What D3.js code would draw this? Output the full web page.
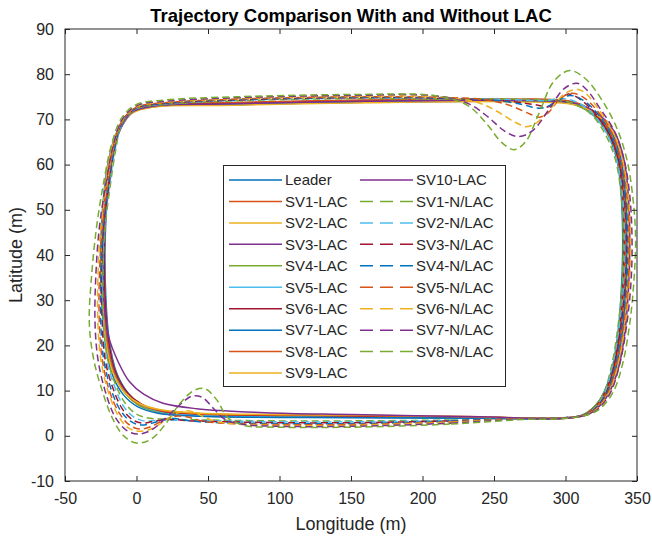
<!DOCTYPE html>
<html>
<head>
<meta charset="utf-8">
<script src="https://cdn.jsdelivr.net/npm/d3@7"></script>
<style>
  html, body { margin: 0; padding: 0; background: #fff; }
  svg { display: block; font-family: "Liberation Sans", Arial, Helvetica, sans-serif; }
</style>
</head>
<body>
<svg id="chart" width="652" height="542"></svg>
<script>
// ---------------- data ----------------
const xTicks = [-50, 0, 50, 100, 150, 200, 250, 300, 350];
const yTicks = [-10, 0, 10, 20, 30, 40, 50, 60, 70, 80, 90];

const leader = [[150,4.3],[240,4.0],[296,3.9],[312,4.6],[323,7.5],[331,13],[336,21],[339,32],[340,43],[339,53],[336,61],[329,67],[318,71.3],[303,73.6],[260,74.2],[160,74.0],[60,73.4],[15,73.1],[-2,71.8],[-11,68],[-17,61],[-20.5,52],[-22,42],[-21.5,31],[-19,21],[-14,14],[-6,9.5],[4,6.8],[18,5.3],[45,4.6]];
const sv1Lac = [[150,4.1],[240,3.9],[297,3.9],[313,4.6],[324,7.6],[332,13],[337,21],[340,32],[341,43],[340,53],[337,61],[330,67.2],[319,71.4],[304,73.5],[260,74.0],[160,73.8],[60,73.2],[15,72.9],[-2.5,71.6],[-11.5,67.8],[-17.5,61],[-21,52],[-22.5,42],[-22,31],[-19.5,21],[-14.5,14],[-6.5,9.3],[3.5,6.6],[17,5.1],[45,4.4]];
const sv2Lac = [[150,4.4],[240,4.1],[298,3.9],[314,4.7],[325,7.7],[333,13.2],[338,21],[341,32],[342,43],[341,53],[338,61],[331,67.2],[320,71.4],[305,73.7],[260,74.3],[160,74.1],[60,73.5],[14,73.2],[-3,71.8],[-12,67.8],[-18,60.5],[-21.5,51.5],[-23,42],[-22.5,31],[-20,21],[-15,14],[-7,9.6],[3,7.0],[17,5.5],[45,4.7]];
const sv3Lac = [[150,4.2],[240,4.0],[297,3.9],[313,4.6],[324,7.4],[332,12.8],[337.5,21],[340.5,32],[341.5,43],[340.5,53],[337.5,61],[330.5,67],[319,71.3],[304,73.6],[260,74.1],[160,73.9],[60,73.3],[14,73.0],[-3,71.6],[-12,67.7],[-18.5,60.5],[-22,51.5],[-23.5,42],[-23,31],[-20.5,21],[-15.5,14],[-7.5,9.4],[2.5,6.7],[17,5.3],[45,4.5]];
const sv4Lac = [[150,4.2],[240,3.9],[296,3.9],[312,4.6],[323,7.5],[331.5,13],[336.5,21],[339.5,32],[340.5,43],[339.5,53],[336.5,61],[329.5,67],[318.5,71.3],[303,73.5],[260,74.1],[160,73.9],[60,73.3],[14,73.0],[-3,71.6],[-12.5,67.6],[-19,60.5],[-22.5,51.5],[-24,42],[-23.5,31],[-21,21],[-16,14],[-8,9.4],[2,6.7],[16,5.2],[45,4.5]];
const sv5Lac = [[150,4.1],[240,3.9],[298,3.9],[314,4.7],[325.5,7.8],[333.5,13.3],[338.5,21],[341.5,32],[342.5,43],[341.5,53],[338.5,61],[331.5,67.3],[320,71.5],[305,73.6],[260,74.1],[160,73.9],[60,73.3],[15,73.0],[-2.5,71.7],[-11.5,67.9],[-17.5,60.8],[-21,51.8],[-22.5,42],[-22,31],[-19.5,21],[-14.5,14],[-6.5,9.4],[3.5,6.8],[17,5.3],[45,4.5]];
const sv6Lac = [[150,4.4],[240,4.1],[297,3.9],[313,4.6],[324,7.6],[332,13.1],[337,21],[340,32],[341,43],[340,53],[337,61],[330,67.1],[319,71.5],[304,73.8],[260,74.4],[160,74.2],[60,73.6],[15,73.3],[-2,72],[-11.5,68.2],[-17.5,61.2],[-21,52],[-22.5,42],[-22,31],[-19.5,21],[-14.5,14],[-6.5,9.6],[3.5,7.0],[17,5.5],[45,4.8]];
const sv7Lac = [[150,4.0],[240,3.9],[299,3.9],[315,4.7],[326,7.8],[334,13.3],[339,21],[342,32],[343,43],[342,53],[339,61],[332,67.3],[321,71.5],[305,73.5],[260,74.0],[160,73.8],[60,73.2],[13,72.9],[-4,71.4],[-13.5,67.4],[-20,60.2],[-23.5,51.2],[-25,42],[-24.5,31],[-22,21],[-17,13.6],[-9,9.0],[1,6.4],[15,5.0],[45,4.3]];
const sv8Lac = [[150,4.5],[240,4.2],[298,3.9],[314,4.7],[325,7.7],[333,13.2],[338,21],[341,32],[342,43],[341,53],[338,61],[331,67.2],[320,71.6],[305,73.9],[260,74.5],[160,74.3],[60,73.7],[14,73.4],[-3,72],[-12.5,68],[-19,60.8],[-22.5,51.8],[-24,42],[-23.5,31],[-21,21],[-16,14],[-8,9.6],[2,7.0],[16,5.6],[45,4.9]];
const sv9Lac = [[150,4.6],[240,4.2],[299,3.9],[316,4.8],[327,8],[335,13.5],[340,21],[343,32],[344,43],[343,53],[340,61],[333,67.3],[321,71.3],[306,73.3],[260,73.9],[160,73.7],[60,73.1],[14,72.8],[-3,71.4],[-13,67.6],[-19.5,60.5],[-23,51.5],[-24.5,42],[-24,31],[-21.5,21],[-16.5,14],[-8.5,9.7],[1.5,7.2],[16,5.8],[45,5.0]];
const sv10Lac = [[150,4.7],[240,4.2],[300,3.9],[317,4.9],[328,8.2],[336,13.8],[341,21.5],[344,32],[345,43],[344,53],[341,61],[334,67.4],[322,71.4],[306,73.6],[260,74.2],[160,74.0],[60,73.4],[14,73.0],[-3,71.6],[-12,67.8],[-18.5,60.6],[-22,51.6],[-23.5,42],[-23,31],[-19.5,22],[-13,16.5],[-5,12],[5,9.2],[18.5,7.2],[42,6.0],[90,5.1]];

const sv1NoLac = [[150,3.3],[220,3.5],[270,3.8],[297,4.0],[314,4.7],[325,8.2],[332,15.2],[337,25],[340,35],[340.5,44],[339,53],[335,61],[328,66.6],[318,71.1],[305,73.6],[285,74.3],[210,74.5],[150,74.6],[70,74.1],[20,73.3],[0,72.3],[-10,69.3],[-14.5,63.3],[-18.5,55],[-22,46],[-23.5,35],[-23,25],[-20.5,17.5],[-15.5,12],[-8.5,7.5],[-1,5],[7,4],[20,3.7],[50,3.5],[100,3.3]];
const sv2NoLac = [[150,3.1],[220,3.4],[270,3.8],[298,4.0],[315,4.8],[326,8.4],[333,15.4],[338,25],[341,35],[341.5,44],[340,53],[336,61],[329,66.8],[319,71.3],[308,73.8],[298,74.6],[285,74.2],[260,74.4],[210,74.6],[150,74.7],[70,74.2],[20,73.4],[0,72.4],[-10,69.4],[-15,63.4],[-19,55],[-22.5,46],[-24,35],[-23.5,25],[-21,17],[-16,11.5],[-9,6.5],[-2,4.2],[5,3.3],[15,3.4],[40,3.4],[100,3.1]];
const sv3NoLac = [[150,2.9],[220,3.3],[270,3.8],[299,4.0],[316,4.9],[327,8.6],[334,15.6],[339,25],[342,35],[342.5,44],[341,53],[337,61],[330,67],[320,71.6],[310,74.5],[302,75.6],[295,74.2],[288,72.8],[280,73.2],[260,74],[210,74.7],[150,74.8],[70,74.3],[20,73.5],[0,72.5],[-10,69.5],[-15.5,63.5],[-19.5,55],[-23,46],[-24.5,35],[-24,25],[-22,17],[-17,11],[-10,6],[-3,3.6],[4,2.8],[12,3.2],[22,3.6],[40,3.3],[100,2.9]];
const sv4NoLac = [[150,2.7],[220,3.2],[270,3.8],[300,4.0],[317,5.0],[328,8.8],[335,15.8],[340,25],[343,35],[343.5,44],[342,53],[338,61],[331,67.2],[321,71.8],[311,74.5],[303,75.3],[295,74.3],[287,72.8],[280,72.5],[270,73.3],[250,74.2],[210,74.8],[150,74.9],[70,74.4],[20,73.6],[0,72.6],[-10,69.6],[-15.5,63.6],[-20,55],[-23.5,46],[-25,35],[-25,25],[-23,17],[-18,10.5],[-11,5.5],[-4,3.2],[3,2.4],[11,2.8],[19,3.6],[27,3.8],[40,3.2],[60,2.9],[100,2.7]];
const sv5NoLac = [[150,2.5],[220,3.1],[270,3.8],[301,4.0],[318,5.1],[329,9],[336,16],[341,25],[344,35],[344.5,44],[343,53],[339,61],[332,67.3],[322,72],[312,75],[304,75.8],[296,74.5],[288,71.5],[282,70.5],[275,71.2],[262,73],[245,74.3],[210,74.9],[150,75],[70,74.5],[20,73.7],[0,72.7],[-10,69.7],[-16,63.8],[-20.5,55],[-24,46],[-26,35],[-26,25],[-24,17],[-19,10],[-12,5],[-5,2.4],[2,1.5],[10,2],[19,3.5],[27,4.3],[35,4.2],[45,3.3],[60,2.8],[100,2.5]];
const sv6NoLac = [[150,2.3],[220,3.0],[270,3.7],[302,4.0],[319,5.2],[330,9.2],[337,16],[342,25],[345,35],[345.5,44],[344,53],[340,61],[333,67.5],[323,72.3],[315,75.5],[309,76.6],[300,75.8],[290,72.5],[280,69.3],[273,68.4],[264,69.5],[252,71.8],[238,73.8],[210,75],[150,75.1],[70,74.6],[20,73.8],[0,72.8],[-10,69.8],[-16,64],[-21,55],[-25,46],[-27,35],[-27,25],[-25,17],[-20,10],[-13,4.6],[-6,1.8],[2,1.0],[11,1.6],[21,3.6],[30,5.2],[37,5.5],[45,4.5],[55,3.2],[70,2.6],[100,2.3]];
const sv7NoLac = [[150,2.1],[220,2.8],[270,3.7],[303,4.0],[320,5.3],[331,9.3],[338,16],[343,25],[346,35],[346.5,44],[345,53],[341,61],[334,67.5],[324,72.5],[315,76.5],[308,78],[299,76.8],[288,72],[277,67.5],[267,66.2],[257,67.5],[246,70.5],[232,73.5],[210,75.2],[150,75.3],[70,74.8],[20,74.0],[0,73.0],[-10,70],[-16,64.5],[-21.5,55.5],[-26,46],[-28.5,35],[-29,25],[-27,17],[-22,10],[-15,4.2],[-7,1.2],[1,0.4],[10,1.2],[20,3.8],[30,6.8],[39,8.8],[46,8.5],[54,6],[62,3.6],[75,2.5],[100,2.1]];
const sv8NoLac = [[150,1.9],[220,2.6],[270,3.6],[305,4.0],[322,5.5],[333,9.5],[340,16],[345,25],[348,35],[349,44],[347,53],[343,61],[336,68],[326,74],[314,79],[303,80.8],[292,78.5],[281,71],[272,65],[264,63.3],[255,65],[245,69],[232,73],[210,75.2],[150,75.5],[70,75],[20,74.3],[0,73.3],[-10,70.5],[-17,65],[-23,56],[-28,46],[-31.5,35],[-33,25],[-30,17],[-24,10],[-17,4],[-9,0],[0,-1.6],[10,-0.8],[20,2.5],[30,7],[40,10],[48,10.4],[56,8],[64,4],[75,2.3],[100,1.9]];

const seriesNames = ["Leader","SV1-LAC","SV2-LAC","SV3-LAC","SV4-LAC","SV5-LAC","SV6-LAC","SV7-LAC","SV8-LAC","SV9-LAC","SV10-LAC",
  "SV1-N/LAC","SV2-N/LAC","SV3-N/LAC","SV4-N/LAC","SV5-N/LAC","SV6-N/LAC","SV7-N/LAC","SV8-N/LAC"];
const seriesData = [leader, sv1Lac, sv2Lac, sv3Lac, sv4Lac, sv5Lac, sv6Lac, sv7Lac, sv8Lac, sv9Lac, sv10Lac,
  sv1NoLac, sv2NoLac, sv3NoLac, sv4NoLac, sv5NoLac, sv6NoLac, sv7NoLac, sv8NoLac];
const seriesDashed = [false,false,false,false,false,false,false,false,false,false,false,
  true,true,true,true,true,true,true,true];

// ---------------- styling ----------------
const palette = ["#0072BD","#D95319","#EDB120","#7E2F8E","#77AC30","#4DBEEE","#A2142F"];
const ink = "#262626";
const margin = {left: 65, top: 29, right: 637, bottom: 481};

const svg = d3.select("#chart");
const x = d3.scaleLinear().domain([-50, 350]).range([margin.left, margin.right]);
const y = d3.scaleLinear().domain([-10, 90]).range([margin.bottom, margin.top]);

svg.append("defs").append("clipPath").attr("id","clip")
  .append("rect").attr("x", margin.left).attr("y", margin.top)
  .attr("width", margin.right - margin.left).attr("height", margin.bottom - margin.top);

const line = d3.line().x(d => x(d[0])).y(d => y(d[1])).curve(d3.curveCatmullRomClosed.alpha(0.5));

const plot = svg.append("g").attr("clip-path", "url(#clip)");
seriesData.forEach((data, i) => {
  plot.append("path")
    .attr("d", line(data))
    .attr("fill", "none")
    .attr("stroke", palette[i % palette.length])
    .attr("stroke-width", 1.5)
    .attr("stroke-dasharray", seriesDashed[i] ? "7,4" : null)
    .attr("stroke-linejoin", "round");
});

// axes (ticks inward, all four sides)
const tickLen = 5;
const fmt = d => String(d);
const axisStyle = g => {
  g.select(".domain").remove();
  g.selectAll(".tick line").attr("stroke", ink);
  g.selectAll(".tick text").attr("fill", ink).attr("font-size", "16px")
    .attr("font-family", "'Liberation Sans', Arial, sans-serif");
};
svg.append("g").attr("transform", `translate(0,${margin.bottom})`)
  .call(d3.axisBottom(x).tickValues(xTicks).tickFormat(fmt).tickSizeInner(-tickLen).tickSizeOuter(0).tickPadding(12))
  .call(axisStyle);
svg.append("g").attr("transform", `translate(0,${margin.top})`)
  .call(d3.axisTop(x).tickValues(xTicks).tickSizeInner(-tickLen).tickSizeOuter(0).tickFormat(""))
  .call(axisStyle);
svg.append("g").attr("transform", `translate(${margin.left},0)`)
  .call(d3.axisLeft(y).tickValues(yTicks).tickFormat(fmt).tickSizeInner(-tickLen).tickSizeOuter(0).tickPadding(11))
  .call(axisStyle);
svg.append("g").attr("transform", `translate(${margin.right},0)`)
  .call(d3.axisRight(y).tickValues(yTicks).tickSizeInner(-tickLen).tickSizeOuter(0).tickFormat(""))
  .call(axisStyle);

svg.append("rect").attr("x", margin.left).attr("y", margin.top)
  .attr("width", margin.right - margin.left).attr("height", margin.bottom - margin.top)
  .attr("fill", "none").attr("stroke", ink).attr("stroke-width", 1);

// title & labels
svg.append("text").attr("x", (margin.left + margin.right) / 2).attr("y", 22)
  .attr("text-anchor", "middle").attr("font-size", "18.5px").attr("font-weight", "bold")
  .attr("fill", "#000").text("Trajectory Comparison With and Without LAC");
svg.append("text").attr("x", (margin.left + margin.right) / 2).attr("y", 530)
  .attr("text-anchor", "middle").attr("font-size", "18px").attr("fill", ink).text("Longitude (m)");
svg.append("text").attr("transform", `translate(22,${(margin.top + margin.bottom) / 2}) rotate(-90)`)
  .attr("text-anchor", "middle").attr("font-size", "18px").attr("fill", ink).text("Latitude (m)");

// legend
const leg = svg.append("g");
leg.append("rect").attr("x", 223.5).attr("y", 165.5).attr("width", 282).attr("height", 221)
  .attr("fill", "#fff").attr("stroke", ink).attr("stroke-width", 1);
const rowsPerCol = 10, rowH = 21.45, row0 = 180;
seriesNames.forEach((name, i) => {
  const col = Math.floor(i / rowsPerCol), row = i % rowsPerCol;
  const lx = col === 0 ? 229 : 360;
  const yy = row0 + row * rowH;
  leg.append("line").attr("x1", lx).attr("x2", lx + 53).attr("y1", yy).attr("y2", yy)
    .attr("stroke", palette[i % palette.length]).attr("stroke-width", 1.5)
    .attr("stroke-dasharray", seriesDashed[i] ? "13,7" : null);
  leg.append("text").attr("x", lx + 56).attr("y", yy).attr("dy", "0.35em")
    .attr("font-size", "15px").attr("fill", ink).text(name);
});
</script>
</body>
</html>
